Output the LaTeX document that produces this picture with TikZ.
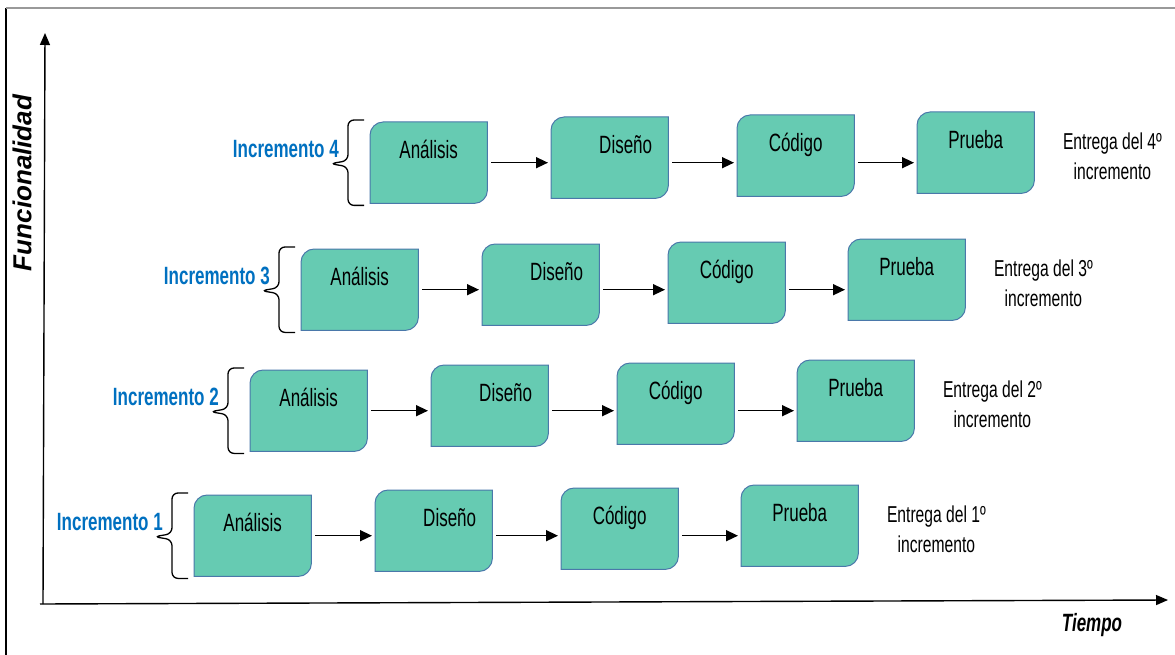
\documentclass[tikz,border=0pt]{standalone}
\usepackage{fontspec}
\setmainfont{Liberation Sans}
\newfontfamily\narrowfont[FakeStretch=0.68]{Liberation Sans}
\usetikzlibrary{arrows.meta,positioning,calc,backgrounds}
\definecolor{stagegreen}{RGB}{102,203,178}
\definecolor{stageedge}{RGB}{74,120,170}
\definecolor{incblue}{RGB}{0,112,192}

\tikzset{
  stagebox/.style={minimum width=117pt, minimum height=81pt, inner sep=0pt, anchor=north west,
    font=\narrowfont\fontsize{25}{25}\selectfont, text height=18pt, text depth=26pt},
  stageline/.style={draw=stageedge, fill=stagegreen, line width=1pt},
  flow/.style={line width=1.5pt, -{Triangle[length=12pt,width=11pt]}, shorten <=4pt, shorten >=3pt},
  axis/.style={line width=1.4pt, -{Triangle[length=12pt,width=10pt]}},
  inclabel/.style={font=\narrowfont\bfseries\fontsize{25}{25}\selectfont, text=incblue, anchor=base east, inner sep=0pt},
  entrega/.style={font=\narrowfont\fontsize{23}{30}\selectfont, align=center, inner sep=0pt},
  bracket/.style={line width=1.3pt, rounded corners=6pt},
}

% box with round top-left and bottom-right corners
\newcommand{\stageshape}[1]{%
  \draw[stageline] ([xshift=13pt]#1.north west) -- (#1.north east) -- ([yshift=13pt]#1.south east)
    .. controls ([yshift=6pt]#1.south east) and ([xshift=-6pt]#1.south east) .. ([xshift=-13pt]#1.south east)
    -- (#1.south west) -- ([yshift=-13pt]#1.north west)
    .. controls ([yshift=-6pt]#1.north west) and ([xshift=6pt]#1.north west) .. ([xshift=13pt]#1.north west) -- cycle;}

\begin{document}
\begin{tikzpicture}[x=1pt, y=-1pt]
    \useasboundingbox (0,0) rectangle (1175,655);

    % Frame
    \draw[line width=1.2pt] (6,655) -- (6,8);
    \draw[line width=1.6pt, gray!80] (6,8) -- (1175,8);

    % Axes
    \coordinate (origin) at (43,604);
    \coordinate (ytop) at (45,33);
    \coordinate (xend) at (1168,600);
    \draw[axis] (origin) -- (ytop);
    \draw[axis] ([xshift=-3pt]origin) -- (xend);
    \node[rotate=90, font=\bfseries\itshape\fontsize{26}{26}\selectfont] (funcion) at (22,183) {Funcionalidad};
    \node[font=\narrowfont\bfseries\itshape\fontsize{25}{25}\selectfont] (tiempo) at (1092,625) {Tiempo};

    % Increments
    \foreach \k/\x/\y in {1/194/495, 2/250/370, 3/301/249, 4/370/122} {
        \node[stagebox] (ana\k) at (\x,\y) {Análisis};
        \node[stagebox] (dis\k) at (\x+181,\y-5) {\hspace*{32pt}Diseño};
        \node[stagebox] (cod\k) at (\x+367,\y-7) {Código};
        \node[stagebox] (pru\k) at (\x+547,\y-10) {Prueba};
        \begin{scope}[on background layer]
            \stageshape{ana\k}
            \stageshape{dis\k}
            \stageshape{cod\k}
            \stageshape{pru\k}
        \end{scope}

        % arrows
        \draw[flow] (ana\k.east) -- (ana\k.east -| dis\k.west);
        \draw[flow] (ana\k.east -| dis\k.east) -- (ana\k.east -| cod\k.west);
        \draw[flow] (ana\k.east -| cod\k.east) -- (ana\k.east -| pru\k.west);

        % label and brace
        \node[inclabel] (inc\k) at ([xshift=-31pt,yshift=5pt]ana\k.west) {Incremento \k};
        \draw[bracket] ([xshift=-6pt,yshift=-2pt]ana\k.south west) -- ([xshift=-22pt,yshift=-2pt]ana\k.south west)
            -- ([xshift=-22pt,yshift=-4pt]ana\k.west) -- ([xshift=-40pt,yshift=-1pt]ana\k.west)
            -- ([xshift=-22pt,yshift=2pt]ana\k.west) -- ([xshift=-22pt,yshift=2pt]ana\k.north west)
            -- ([xshift=-6pt,yshift=2pt]ana\k.north west);

        % delivery
        \node[entrega] (ent\k) at ([xshift=78pt,yshift=-4pt]pru\k.east) {Entrega del \k{}º\\incremento};
    }
\end{tikzpicture}
\end{document}
